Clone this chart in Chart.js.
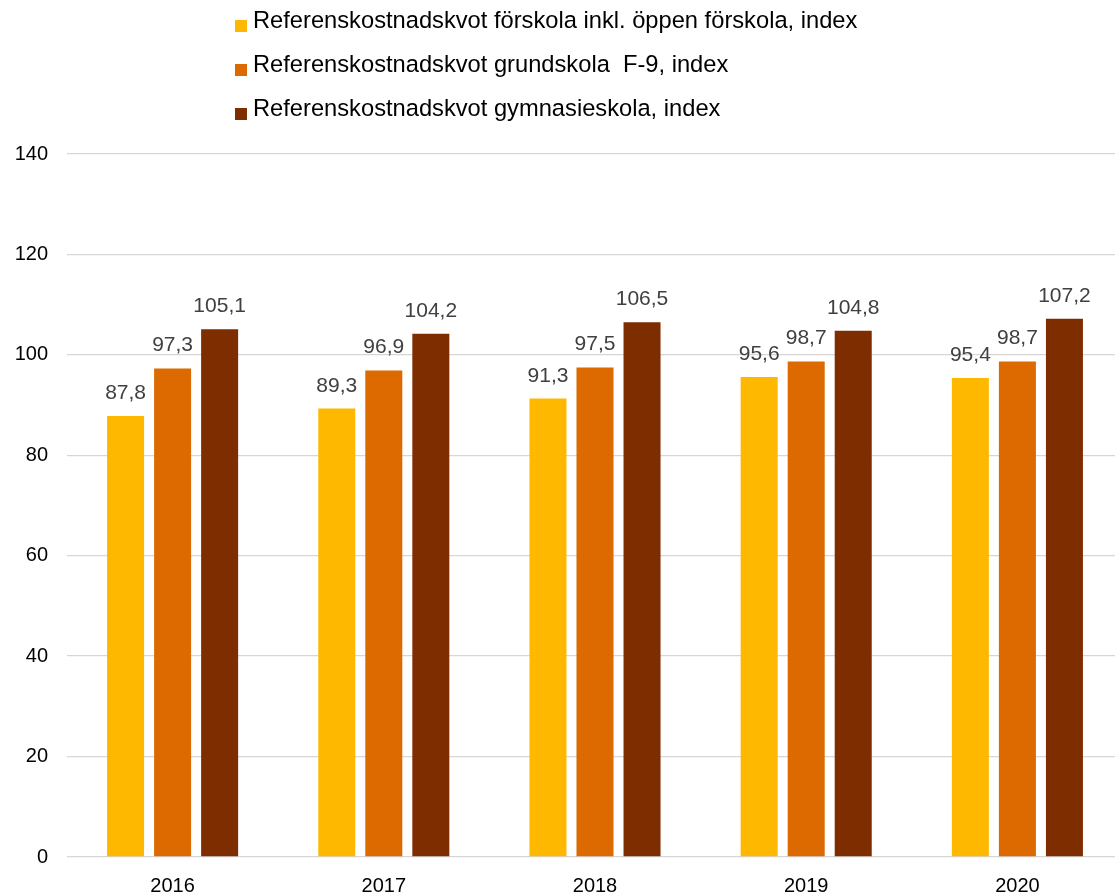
<!DOCTYPE html>
<html>
<head>
<meta charset="utf-8">
<script src="https://cdn.jsdelivr.net/npm/chart.js@4"></script>
<style>
  html, body { margin: 0; padding: 0; background: #fff; overflow: hidden; }
  #wrap { width: 1115px; height: 892px; overflow: hidden; }
</style>
</head>
<body>
<div id="wrap"><canvas id="myChart" width="1123" height="892"></canvas></div>
<script>
var years = ['2016', '2017', '2018', '2019', '2020'];
var seriesNames = [
    'Referenskostnadskvot förskola inkl. öppen förskola, index',
    'Referenskostnadskvot grundskola  F-9, index',
    'Referenskostnadskvot gymnasieskola, index'
];
var forskola = [87.8, 89.3, 91.3, 95.6, 95.4];
var grundskola = [97.3, 96.9, 97.5, 98.7, 98.7];
var gymnasieskola = [105.1, 104.2, 106.5, 104.8, 107.2];
var colors = ['#FFB800', '#DC6A00', '#7E2D00'];

// values above each bar, swedish decimal comma
var valueLabels = {
    id: 'valueLabels',
    afterDatasetsDraw: function (chart) {
        var ctx = chart.ctx;
        ctx.save();
        ctx.font = '21px "Liberation Sans", Arial, sans-serif';
        ctx.fillStyle = '#404040';
        ctx.textAlign = 'center';
        ctx.textBaseline = 'alphabetic';
        chart.data.datasets.forEach(function (ds, i) {
            chart.getDatasetMeta(i).data.forEach(function (bar, j) {
                ctx.fillText(ds.data[j].toFixed(1).replace('.', ','), bar.x, bar.y - 17);
            });
        });
        ctx.restore();
    }
};

// stacked legend, left aligned like the original
var stackedLegend = {
    id: 'stackedLegend',
    afterDraw: function (chart) {
        var ctx = chart.ctx;
        ctx.save();
        ctx.font = '23.7px "Liberation Sans", Arial, sans-serif';
        ctx.textBaseline = 'alphabetic';
        ctx.textAlign = 'left';
        chart.data.datasets.forEach(function (ds, i) {
            var base = 28 + i * 44;
            ctx.fillStyle = ds.backgroundColor;
            ctx.fillRect(235, base - 8, 12, 12);
            ctx.fillStyle = '#000';
            ctx.fillText(ds.label, 253, base);
        });
        ctx.restore();
    }
};

var ctx = document.getElementById('myChart').getContext('2d');
new Chart(ctx, {
    type: 'bar',
    data: {
        labels: years,
        datasets: [
            { label: seriesNames[0], data: forskola, backgroundColor: colors[0] },
            { label: seriesNames[1], data: grundskola, backgroundColor: colors[1] },
            { label: seriesNames[2], data: gymnasieskola, backgroundColor: colors[2] }
        ]
    },
    options: {
        responsive: false,
        animation: false,
        devicePixelRatio: 1,
        layout: { padding: { top: 154, left: 0, right: 0, bottom: 0 } },
        datasets: {
            bar: { categoryPercentage: 0.668, barPercentage: 0.787, borderWidth: 0 }
        },
        plugins: {
            legend: { display: false },
            tooltip: { enabled: false }
        },
        scales: {
            x: {
                grid: { display: false },
                border: { display: false },
                ticks: {
                    color: '#000',
                    padding: 9,
                    font: { family: '"Liberation Sans", Arial, sans-serif', size: 20 }
                },
                afterFit: function (s) { s.height = 35; }
            },
            y: {
                min: 0,
                max: 140,
                ticks: {
                    stepSize: 20,
                    color: '#000',
                    padding: 19,
                    font: { family: '"Liberation Sans", Arial, sans-serif', size: 20 }
                },
                grid: { color: '#d6d6d6', lineWidth: 1.3, drawTicks: false },
                border: { display: false },
                afterFit: function (s) { s.width = 67; }
            }
        }
    },
    plugins: [valueLabels, stackedLegend]
});
</script>
</body>
</html>
